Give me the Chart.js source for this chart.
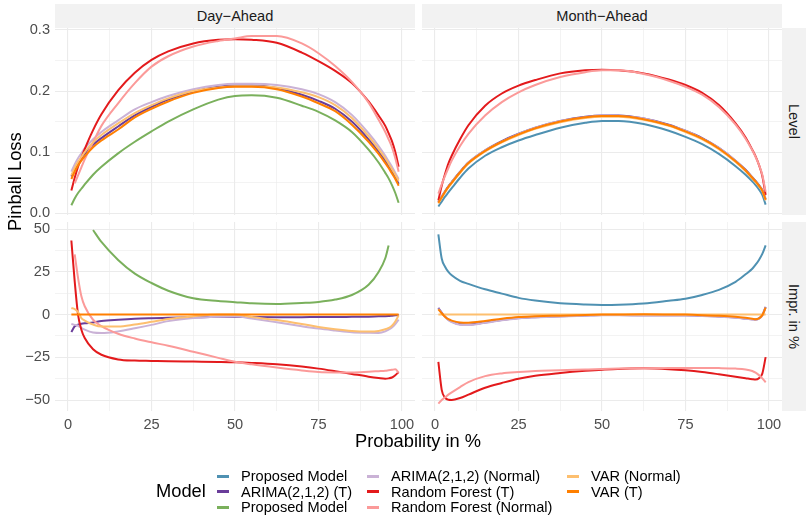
<!DOCTYPE html>
<html>
<head>
<meta charset="utf-8">
<script src="https://cdn.jsdelivr.net/npm/chart.js@4.4.0/dist/chart.umd.min.js"></script>
<style>
body { margin: 0; background: #fff; }
#wrap { position: relative; width: 810px; height: 526px; overflow: hidden; font-family: "Liberation Sans", Arial, sans-serif; }
#wrap canvas { position: absolute; left: 0; top: 0; }
.strip { position: absolute; background: #f2f2f2; color: #1a1a1a; font-size: 14.6px; display: flex; align-items: center; justify-content: center; }
.vert { writing-mode: vertical-rl; }
.title { position: absolute; color: #000; font-size: 18.3px; white-space: nowrap; }
.key { position: absolute; width: 12px; height: 3px; }
.lab { position: absolute; font-size: 14.6px; color: #000; white-space: nowrap; line-height: 16px; }
</style>
</head>
<body>
<div id="wrap">
  <canvas id="cTL" width="810" height="526"></canvas>
  <canvas id="cTR" width="810" height="526"></canvas>
  <canvas id="cBL" width="810" height="526"></canvas>
  <canvas id="cBR" width="810" height="526"></canvas>
  <div class="strip" style="left:55px;top:4px;width:360px;height:24px;">Day−Ahead</div>
  <div class="strip" style="left:422px;top:4px;width:360px;height:24px;">Month−Ahead</div>
  <div class="strip vert" style="left:782px;top:28px;width:24px;height:187px;">Level</div>
  <div class="strip vert" style="left:782px;top:222px;width:24px;height:189px;">Impr. in %</div>
  <div class="title" style="left:3px;top:219px;transform:translateY(-50%) rotate(-90deg);transform-origin:center;width:24px;text-align:center;"><span style="display:inline-block;">Pinball Loss</span></div>
  <div class="title" style="left:418px;top:430px;transform:translateX(-50%);">Probability in %</div>
  <div id="legend"></div>
</div>
<script>
// quantile levels (in %) shared by all curves
const probs = [1, 2, 3, 4, 5, 7.5, 10, 15, 20, 25, 30, 37.5, 45, 50, 55, 62.5, 70, 75, 80, 85, 90, 93, 95, 96, 97, 98, 99];

// Day-Ahead, Level
const dayLevelProposed = [0.013,0.024,0.033,0.040,0.047,0.063,0.076,0.098,0.117,0.134,0.150,0.170,0.186,0.192,0.193,0.189,0.176,0.166,0.152,0.133,0.104,0.083,0.066,0.057,0.046,0.033,0.017];
const dayLevelArimaT   = [0.060,0.072,0.082,0.090,0.097,0.112,0.123,0.142,0.160,0.174,0.186,0.199,0.207,0.209,0.209,0.205,0.194,0.184,0.171,0.150,0.121,0.101,0.086,0.077,0.068,0.059,0.048];
const dayLevelArimaN   = [0.068,0.080,0.090,0.098,0.106,0.121,0.133,0.152,0.170,0.182,0.192,0.203,0.210,0.212,0.212,0.210,0.203,0.195,0.182,0.161,0.131,0.110,0.094,0.085,0.076,0.066,0.056];
const dayLevelRfT      = [0.037,0.058,0.076,0.091,0.105,0.136,0.162,0.201,0.230,0.251,0.265,0.278,0.284,0.285,0.284,0.279,0.263,0.249,0.233,0.213,0.183,0.160,0.143,0.131,0.118,0.100,0.076];
const dayLevelRfN      = [null,0.049,0.062,0.075,0.088,0.116,0.143,0.180,0.213,0.240,0.257,0.273,0.282,0.286,0.290,0.290,0.278,0.262,0.241,0.215,0.181,0.153,0.133,0.121,0.108,0.090,0.068];
const dayLevelVarN     = [0.062,0.074,0.084,0.092,0.100,0.116,0.128,0.147,0.164,0.177,0.188,0.200,0.206,0.208,0.208,0.206,0.198,0.190,0.177,0.156,0.126,0.105,0.090,0.081,0.072,0.063,0.053];
const dayLevelVarT     = [0.056,0.068,0.078,0.086,0.093,0.108,0.119,0.137,0.157,0.171,0.183,0.197,0.205,0.207,0.207,0.203,0.191,0.180,0.167,0.145,0.117,0.097,0.082,0.074,0.065,0.056,0.045];

// Month-Ahead, Level
const monthLevelProposed = [0.011,0.019,0.027,0.034,0.041,0.058,0.073,0.094,0.108,0.119,0.128,0.140,0.148,0.151,0.151,0.146,0.135,0.125,0.113,0.097,0.077,0.063,0.052,0.046,0.039,0.030,0.014];
const monthLevelArimaT   = [0.018,0.027,0.036,0.044,0.051,0.068,0.083,0.103,0.118,0.130,0.140,0.151,0.158,0.160,0.160,0.155,0.145,0.135,0.123,0.107,0.086,0.071,0.059,0.053,0.046,0.038,0.023];
const monthLevelArimaN   = [0.018,0.027,0.035,0.043,0.051,0.067,0.083,0.103,0.117,0.130,0.140,0.151,0.157,0.160,0.159,0.155,0.144,0.135,0.122,0.107,0.086,0.070,0.058,0.052,0.045,0.037,0.023];
const monthLevelRfT      = [0.021,0.045,0.064,0.081,0.094,0.121,0.144,0.176,0.196,0.209,0.218,0.229,0.234,0.235,0.234,0.229,0.219,0.210,0.197,0.177,0.147,0.124,0.104,0.093,0.079,0.061,0.030];
const monthLevelRfN      = [0.032,0.047,0.061,0.074,0.086,0.110,0.130,0.160,0.182,0.198,0.210,0.223,0.231,0.234,0.234,0.228,0.217,0.207,0.194,0.174,0.145,0.122,0.103,0.092,0.079,0.063,0.035];
const monthLevelVarN     = [0.016,0.025,0.034,0.042,0.049,0.066,0.081,0.101,0.116,0.128,0.138,0.149,0.156,0.158,0.158,0.153,0.143,0.133,0.121,0.105,0.084,0.069,0.057,0.051,0.044,0.036,0.021];
const monthLevelVarT     = [0.017,0.026,0.035,0.043,0.050,0.067,0.082,0.102,0.117,0.129,0.139,0.150,0.157,0.159,0.159,0.154,0.144,0.134,0.122,0.106,0.085,0.070,0.058,0.052,0.045,0.037,0.022];

// Day-Ahead, improvement in %
const dayImprProposed = [null,null,null,null,null,49.5,42.5,32,24,18.5,14,9.6,8,7.3,6.6,6.2,6.8,7.4,8.8,11.5,17.5,25,33,40.5,null,null,null];
const dayImprArimaT   = [-10.2,-6.8,-5.9,-5.4,-5.1,-4.6,-3.8,-3.0,-2.4,-2.1,-1.9,-1.6,-1.3,-1.2,-1.4,-1.5,-1.5,-1.4,-1.4,-1.3,-1.2,-1.0,-0.9,-0.8,-0.6,-0.4,-0.2];
const dayImprArimaN   = [-5.5,-6.0,-6.5,-7.8,-8.8,-10.5,-10.8,-9.8,-8.0,-6.0,-3.8,-2.0,-1.2,-1.0,-2.3,-4.5,-6.8,-8.2,-9.3,-10.3,-10.6,-10.7,-9.8,-8.8,-7.5,-5.5,-2.9];
const dayImprRfT      = [43.4,19.5,0,-8.8,-13.7,-20.3,-23.5,-26.2,-26.9,-27.1,-27.3,-27.5,-27.7,-27.9,-28.3,-29.1,-30.4,-31.6,-33.1,-34.7,-36.3,-37.1,-37.5,-37.3,-36.8,-35.5,-33.6];
const dayImprRfN      = [null,35.2,21.5,10.7,4.9,-3.0,-6.7,-11.2,-14.0,-16.2,-18.2,-21.7,-25.3,-27.6,-29.1,-31.0,-32.7,-33.6,-33.8,-33.8,-33.4,-33.1,-32.9,-32.6,-32.3,-32.0,-34.0];
const dayImprVarN     = [3.9,3.2,1.5,-2.0,-3.5,-5.8,-7.0,-7.0,-5.8,-4.2,-2.5,-1.0,0,0,-1.4,-3.2,-5.5,-7.2,-8.6,-9.6,-9.9,-9.6,-8.6,-7.8,-6.5,-4.0,-0.4];
const dayImprVarT     = [0,0,0,0,0,0,0,0,0,0,0,0,0,0,0,0,0,0,0,0,0,0,0,0,0,0,0];

// Month-Ahead, improvement in %
const monthImprProposed = [46.9,32.8,28.0,25.0,23.0,19.8,18.0,14.8,12.3,9.8,8.2,6.6,5.9,5.7,5.8,6.5,8.1,9.3,11.5,14.5,19.2,23.6,26.8,29.2,32.0,35.5,40.5];
const monthImprArimaT   = [3.9,1.2,-1.2,-3.0,-4.1,-5.7,-5.9,-4.6,-3.1,-2.0,-1.5,-1.0,-0.5,-0.2,-0.2,-0.4,-0.4,-0.4,-0.7,-1.1,-1.7,-2.3,-2.7,-2.9,-2.2,-0.4,4.5];
const monthImprArimaN   = [3.5,0.9,-1.4,-3.2,-4.3,-5.9,-6.1,-4.8,-3.3,-2.2,-1.6,-1.1,-0.6,-0.3,-0.3,-0.5,-0.5,-0.5,-0.8,-1.2,-1.8,-2.4,-2.8,-3.0,-2.4,-0.6,4.2];
const monthImprRfT      = [-27.7,-44.0,-48.6,-49.8,-49.9,-48.8,-46.8,-42.8,-40.0,-37.5,-35.8,-34.2,-32.9,-32.2,-31.8,-31.4,-31.9,-32.6,-33.6,-34.9,-36.3,-37.2,-37.8,-38.0,-37.2,-34.5,-24.9];
const monthImprRfN      = [-52.1,-50.0,-48.4,-46.8,-45.5,-42.4,-39.5,-36.0,-34.4,-33.6,-33.0,-32.6,-32.1,-31.8,-31.6,-31.4,-31.3,-31.2,-31.2,-31.3,-31.6,-32.1,-33.0,-34.0,-35.4,-37.3,-39.6];
const monthImprVarN     = [0,0,0,0,0,0,0,0,0,0,0,0,0,0,0,0,0,0,0,0,0,0,0,0,0,0,0];
const monthImprVarT     = [3.1,0.8,-1.2,-2.7,-3.5,-4.6,-4.7,-3.7,-2.4,-1.4,-1.0,-0.6,-0.2,0,0.1,0.2,0.1,0,-0.3,-0.7,-1.3,-1.9,-2.4,-2.7,-2.2,-0.3,4.1];

// legend entries, in factor order
const modelNames  = ["Proposed Model", "ARIMA(2,1,2) (T)", "Proposed Model", "ARIMA(2,1,2) (Normal)", "Random Forest (T)", "Random Forest (Normal)", "VAR (Normal)", "VAR (T)"];
const modelColors = ["#4f91b2", "#6a3d9a", "#7ab05c", "#cab2d6", "#e31a1c", "#fb9a99", "#fdbf6f", "#ff7f00"];

const xGrid = [0, 12.5, 25, 37.5, 50, 62.5, 75, 87.5, 100];
const levelGrid = [0, 0.05, 0.1, 0.15, 0.2, 0.25, 0.3];
const imprGrid = [-50, -37.5, -25, -12.5, 0, 12.5, 25, 37.5, 50];

Chart.defaults.font.family = '"Liberation Sans", Arial, sans-serif';
Chart.defaults.font.size = 14.6;
Chart.defaults.color = '#4d4d4d';

const W = 810, H = 526;
const Y_AXIS_W = 40, X_AXIS_H = 25;

function minus(s) { return s.replace('-', '\u2212'); }

function makePanel(id, box, showX, showY, yMin, yMax, yGrid, yMajor, yFmt, series) {
  // series: list of [model index, values]
  const datasets = series.map(([m, vals]) => ({
    label: modelNames[m],
    data: probs.map((p, i) => ({ x: p, y: vals[i] })),
    borderColor: modelColors[m],
    backgroundColor: modelColors[m],
    order: 8 - m
  }));
  new Chart(document.getElementById(id), {
    type: 'line',
    data: { datasets: datasets },
    options: {
      responsive: false,
      animation: false,
      layout: {
        padding: {
          left: box.l - (showY ? Y_AXIS_W : 0),
          top: box.t,
          right: W - box.r,
          bottom: H - box.b - (showX ? X_AXIS_H : 0)
        }
      },
      plugins: { legend: { display: false }, tooltip: { enabled: false } },
      elements: {
        point: { radius: 0 },
        line: { borderWidth: 2, cubicInterpolationMode: 'monotone', fill: false }
      },
      scales: {
        x: {
          type: 'linear', min: -3.9, max: 103.9,
          border: { display: false },
          grid: {
            color: '#ebebeb', drawTicks: false,
            lineWidth: ctx => (ctx.tick && ctx.tick.value % 25 === 0) ? 1.1 : 0.6
          },
          ticks: {
            display: showX, autoSkip: false, maxRotation: 0, padding: 5,
            callback: v => (v % 25 === 0 ? String(v) : '')
          },
          afterBuildTicks: s => { s.ticks = xGrid.map(v => ({ value: v })); },
          afterFit: s => { s.height = showX ? X_AXIS_H : 0; }
        },
        y: {
          type: 'linear', min: yMin, max: yMax,
          border: { display: false },
          grid: {
            color: '#ebebeb', drawTicks: false,
            lineWidth: ctx => (ctx.tick && yMajor.includes(ctx.tick.value)) ? 1.1 : 0.6
          },
          ticks: {
            display: showY, autoSkip: false, padding: 5,
            callback: v => (yMajor.includes(v) ? yFmt(v) : '')
          },
          afterBuildTicks: s => { s.ticks = yGrid.map(v => ({ value: v })); },
          afterFit: s => { s.width = showY ? Y_AXIS_W : 0; }
        }
      }
    }
  });
}

const levelFmt = v => v.toFixed(1);
const imprFmt = v => minus(String(v));
const levelMajor = [0, 0.1, 0.2, 0.3];
const imprMajor = [-50, -25, 0, 25, 50];

makePanel('cTL', { l: 55, t: 28, r: 415, b: 215 }, false, true, -0.003, 0.3033, levelGrid, levelMajor, levelFmt, [
  [1, dayLevelArimaT], [2, dayLevelProposed], [3, dayLevelArimaN], [4, dayLevelRfT],
  [5, dayLevelRfN], [6, dayLevelVarN], [7, dayLevelVarT]
]);
makePanel('cTR', { l: 422, t: 28, r: 782, b: 215 }, false, false, -0.003, 0.3033, levelGrid, levelMajor, levelFmt, [
  [0, monthLevelProposed], [1, monthLevelArimaT], [3, monthLevelArimaN], [4, monthLevelRfT],
  [5, monthLevelRfN], [6, monthLevelVarN], [7, monthLevelVarT]
]);
makePanel('cBL', { l: 55, t: 222, r: 415, b: 411 }, true, true, -56.4, 54.2, imprGrid, imprMajor, imprFmt, [
  [1, dayImprArimaT], [2, dayImprProposed], [3, dayImprArimaN], [4, dayImprRfT],
  [5, dayImprRfN], [6, dayImprVarN], [7, dayImprVarT]
]);
makePanel('cBR', { l: 422, t: 222, r: 782, b: 411 }, true, false, -56.4, 54.2, imprGrid, imprMajor, imprFmt, [
  [0, monthImprProposed], [1, monthImprArimaT], [3, monthImprArimaN], [4, monthImprRfT],
  [5, monthImprRfN], [6, monthImprVarN], [7, monthImprVarT]
]);

// legend: title plus three columns filled top to bottom
const legend = document.getElementById('legend');
const colKeyX = [217, 367, 567];
const rowY = [476, 491.5, 507];
let html = '<div class="title" style="left:156px;top:480px;">Model</div>';
modelNames.forEach((name, i) => {
  const c = Math.floor(i / 3), r = i % 3;
  html += '<div class="key" style="left:' + colKeyX[c] + 'px;top:' + (rowY[r] - 1.5) + 'px;background:' + modelColors[i] + ';"></div>';
  html += '<div class="lab" style="left:' + (colKeyX[c] + 24) + 'px;top:' + (rowY[r] - 8) + 'px;">' + name + '</div>';
});
legend.innerHTML = html;
</script>
</body>
</html>
